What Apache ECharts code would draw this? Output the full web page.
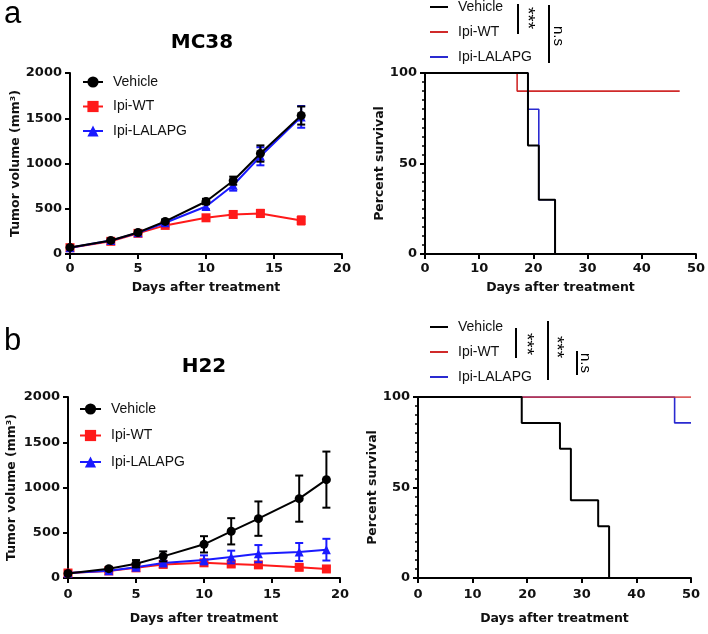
<!DOCTYPE html>
<html>
<head>
<meta charset="utf-8">
<script src="https://cdn.jsdelivr.net/npm/echarts@6/dist/echarts.min.js"></script>
<style>html,body{margin:0;padding:0;background:#fff;}#c{width:708px;height:634px;}</style>
</head>
<body>
<div id="c"></div>
<script>
// ---------- data ----------
const groups = ['Vehicle', 'Ipi-WT', 'Ipi-LALAPG'];

// MC38 tumor growth
const mcDays = [0, 3, 5, 7, 10, 12, 14, 17];
const mcVehicle = [73, 150, 238, 360, 580, 810, 1110, 1530];
const mcVehicleErr = [8, 12, 15, 20, 30, 45, 90, 100];
const mcWT = [70, 140, 228, 316, 400, 437, 448, 371];
const mcWTErr = [8, 12, 15, 18, 30, 35, 40, 45];
const mcLALAPG = [70, 148, 235, 345, 525, 760, 1080, 1515];
const mcLALAPGErr = [8, 12, 15, 20, 30, 60, 100, 120];

// MC38 survival (day, percent)
const mcSurvVehicle = [[0, 100], [19, 60], [21, 30], [24, 0]];
const mcSurvWT = [[0, 100], [17, 90], [47, 90]];
const mcSurvLALAPG = [[0, 100], [19, 80], [21, 30], [24, 0]];

// H22 tumor growth
const hDays = [0, 3, 5, 7, 10, 12, 14, 17, 19];
const hVehicle = [50, 103, 158, 239, 372, 516, 656, 877, 1087];
const hVehicleErr = [12, 20, 40, 55, 90, 145, 190, 255, 310];
const hWT = [55, 78, 112, 150, 168, 155, 145, 118, 100];
const hWTErr = [10, 12, 15, 20, 30, 30, 30, 30, 25];
const hLALAPG = [55, 80, 120, 165, 200, 232, 269, 287, 313];
const hLALAPGErr = [10, 12, 18, 25, 50, 70, 95, 100, 120];

// H22 survival
const hSurvVehicle = [[0, 100], [19, 85.7], [26, 71.4], [28, 42.9], [33, 28.6], [35, 0]];
const hSurvWT = [[0, 100], [50, 100]];
const hSurvLALAPG = [[0, 100], [47, 85.7], [50, 85.7]];

// axis ticks
const growthX = {min: 0, max: 20, interval: 5};
const growthY = {min: 0, max: 2000, interval: 500};
const survX = {min: 0, max: 50, interval: 10};
const survY = {min: 0, max: 100, interval: 50};

// ---------- styling ----------
const C = {veh: '#000000', wt: '#ff1a1a', la: '#1a1aff', kmWt: '#d02a2a', kmLa: '#2a2ad0'};
const boldFont = {fontFamily: 'DejaVu Sans', fontWeight: 'bold', color: '#111'};

function xAxis(idx, s, gap, margin) {
  return {
    type: 'value', gridIndex: idx, min: s.min, max: s.max, interval: s.interval,
    name: 'Days after treatment', nameLocation: 'middle', nameGap: gap,
    nameTextStyle: Object.assign({fontSize: 12.5}, boldFont),
    axisLine: {show: true, onZero: false, lineStyle: {color: '#000', width: 2}},
    axisTick: {show: true, length: 5, lineStyle: {color: '#000', width: 2}},
    axisLabel: Object.assign({fontSize: 13, margin: margin, formatter: v => String(v)}, boldFont),
    splitLine: {show: false}
  };
}
function yAxis(idx, s, name, gap, minor) {
  return {
    type: 'value', gridIndex: idx, min: s.min, max: s.max, interval: s.interval,
    name: name, nameLocation: 'middle', nameGap: gap,
    nameTextStyle: Object.assign({fontSize: 12.5}, boldFont),
    axisLine: {show: true, onZero: false, lineStyle: {color: '#000', width: 2}},
    axisTick: {show: true, length: 5, lineStyle: {color: '#000', width: 2}},
    minorTick: minor ? {show: true, splitNumber: 10, length: 3, lineStyle: {color: '#000', width: 1.5}} : {show: false},
    axisLabel: Object.assign({fontSize: 13, margin: 8, formatter: v => String(v)}, boldFont),
    splitLine: {show: false}
  };
}

function growthSeries(name, days, vals, color, symbol, gi, z) {
  return {
    name: name, type: 'line', xAxisIndex: gi, yAxisIndex: gi, z: z,
    data: days.map((d, i) => [d, vals[i]]),
    symbol: symbol, symbolSize: 9, showSymbol: true,
    lineStyle: {color: color, width: 2}, itemStyle: {color: color}
  };
}
function errSeries(days, vals, errs, color, gi, z) {
  return {
    name: 'err', type: 'custom', xAxisIndex: gi, yAxisIndex: gi, z: z,
    data: days.map((d, i) => [d, vals[i] - errs[i], vals[i] + errs[i]]),
    renderItem: function (params, api) {
      const x = api.value(0);
      const lo = api.coord([x, api.value(1)]);
      const hi = api.coord([x, api.value(2)]);
      const w = 4;
      const st = {stroke: color, lineWidth: 2};
      return {type: 'group', children: [
        {type: 'line', shape: {x1: lo[0], y1: lo[1], x2: hi[0], y2: hi[1]}, style: st},
        {type: 'line', shape: {x1: hi[0] - w, y1: hi[1], x2: hi[0] + w, y2: hi[1]}, style: st},
        {type: 'line', shape: {x1: lo[0] - w, y1: lo[1], x2: lo[0] + w, y2: lo[1]}, style: st}
      ]};
    },
    silent: true
  };
}
function kmSeries(name, data, color, width, gi, z) {
  return {
    name: 'KM-' + name, type: 'line', step: 'end', xAxisIndex: gi, yAxisIndex: gi, z: z,
    data: data, symbol: 'none', showSymbol: false,
    lineStyle: {color: color, width: width}, itemStyle: {color: color}
  };
}

function legend(left, top, gap, iconW, items, iconH) {
  return {
    orient: 'vertical', left: left, top: top, itemGap: gap, itemWidth: iconW, itemHeight: iconH || 14,
    data: items, padding: 0,
    formatter: n => n.replace('KM-', ''),
    textStyle: {fontFamily: 'Liberation Sans', fontSize: 14, color: '#111', lineHeight: 14, padding: [0, 0, 0, 5]}
  };
}
const kmLegendItems = groups.map(g => ({name: 'KM-' + g, icon: 'rect'}));

const series = [
  // MC38 growth (grid 0)
  errSeries(mcDays, mcWT, mcWTErr, C.wt, 0, 2), growthSeries('Ipi-WT', mcDays, mcWT, C.wt, 'rect', 0, 2),
  errSeries(mcDays, mcLALAPG, mcLALAPGErr, C.la, 0, 3), growthSeries('Ipi-LALAPG', mcDays, mcLALAPG, C.la, 'triangle', 0, 3),
  errSeries(mcDays, mcVehicle, mcVehicleErr, C.veh, 0, 4), growthSeries('Vehicle', mcDays, mcVehicle, C.veh, 'circle', 0, 4),
  // MC38 survival (grid 1)
  kmSeries('Ipi-LALAPG', mcSurvLALAPG, C.kmLa, 1.6, 1, 2),
  kmSeries('Ipi-WT', mcSurvWT, C.kmWt, 1.6, 1, 3),
  kmSeries('Vehicle', mcSurvVehicle, C.veh, 2, 1, 4),
  // H22 growth (grid 2)
  errSeries(hDays, hWT, hWTErr, C.wt, 2, 2), growthSeries('Ipi-WT', hDays, hWT, C.wt, 'rect', 2, 2),
  errSeries(hDays, hLALAPG, hLALAPGErr, C.la, 2, 3), growthSeries('Ipi-LALAPG', hDays, hLALAPG, C.la, 'triangle', 2, 3),
  errSeries(hDays, hVehicle, hVehicleErr, C.veh, 2, 4), growthSeries('Vehicle', hDays, hVehicle, C.veh, 'circle', 2, 4),
  // H22 survival (grid 3)
  kmSeries('Ipi-LALAPG', hSurvLALAPG, C.kmLa, 1.6, 3, 2),
  kmSeries('Ipi-WT', hSurvWT, C.kmWt, 1.6, 3, 3),
  kmSeries('Vehicle', hSurvVehicle, C.veh, 2, 3, 4)
];

// annotation helpers (brackets & significance marks)
function vline(x, y1, y2) {
  return {type: 'line', shape: {x1: x, y1: y1, x2: x, y2: y2}, style: {stroke: '#000', lineWidth: 2}};
}
function vtext(x, y, t, size) {
  return {type: 'text', x: x, y: y, rotation: -Math.PI / 2,
    style: {text: t, fill: '#000', font: (size || 14) + 'px "Liberation Sans"', align: 'center', verticalAlign: 'middle'}};
}
function label(x, y, t, font, align) {
  return {type: 'text', x: x, y: y, style: {text: t, fill: '#000', font: font, align: align || 'center', verticalAlign: 'middle'}};
}

const option = {
  animation: false,
  backgroundColor: '#fff',
  grid: [
    {left: 70, top: 73, width: 272, height: 181},
    {left: 425, top: 73, width: 272, height: 181},
    {left: 68, top: 397, width: 272, height: 181},
    {left: 418, top: 397, width: 273, height: 181}
  ],
  xAxis: [xAxis(0, growthX, 27, 8), xAxis(1, survX, 27, 8), xAxis(2, growthX, 34, 10), xAxis(3, survX, 34, 10)],
  yAxis: [
    yAxis(0, growthY, 'Tumor volume (mm³)', 48, false),
    yAxis(1, survY, 'Percent survival', 38, true),
    yAxis(2, growthY, 'Tumor volume (mm³)', 50, false),
    yAxis(3, survY, 'Percent survival', 39, true)
  ],
  legend: [
    legend(82, 75, 10.5, 20, groups),
    legend(430, 0, 11, 18, kmLegendItems, 2),
    legend(79, 402, 12.5, 21, groups),
    legend(430, 320, 11, 18, kmLegendItems, 2)
  ],
  graphic: [
    label(4, 14, 'a', '31px "Liberation Sans"', 'left'),
    label(4, 341, 'b', '31px "Liberation Sans"', 'left'),
    label(202, 43, 'MC38', 'bold 20px "DejaVu Sans"'),
    label(204, 367, 'H22', 'bold 20px "DejaVu Sans"'),
    vline(518, 4, 34), vtext(527, 18, '***', 19),
    vline(549, 5, 63), vtext(558, 36, 'n.s', 15),
    vline(516, 328, 358), vtext(526, 344, '***', 19),
    vline(548, 321, 380), vtext(556, 347, '***', 19),
    vline(577, 351, 375), vtext(585, 363, 'n.s', 15)
  ],
  series: series
};

const chart = echarts.init(document.getElementById('c'), null, {renderer: 'canvas'});
chart.setOption(option);
</script>
</body>
</html>
